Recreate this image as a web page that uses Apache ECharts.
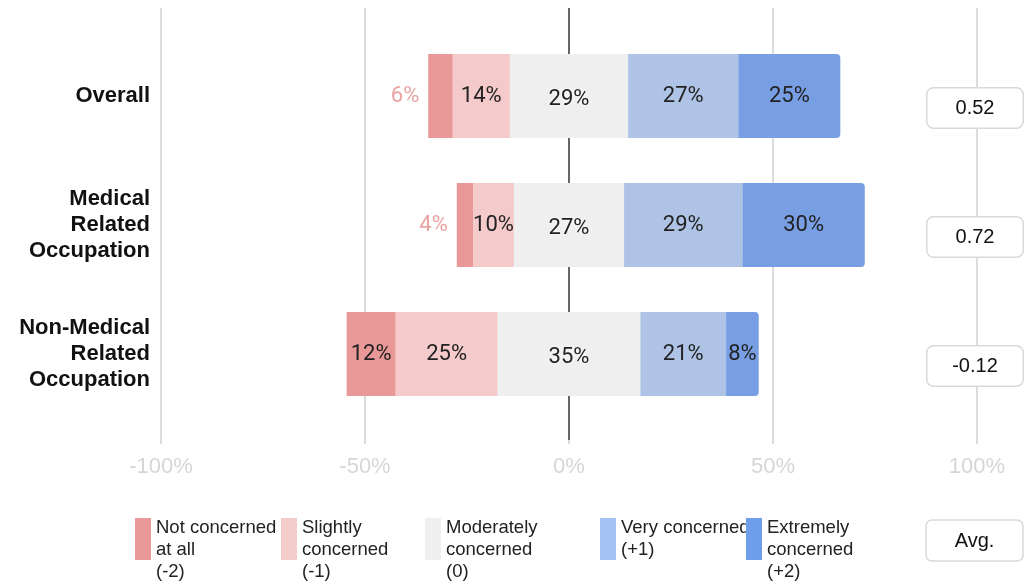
<!DOCTYPE html>
<html>
<head>
<meta charset="utf-8">
<script src="https://cdn.jsdelivr.net/npm/echarts@6/dist/echarts.min.js"></script>
<style>
  html, body { margin: 0; padding: 0; background: #fff; }
  #chart { width: 1027px; height: 584px; }
</style>
</head>
<body>
<div id="chart"></div>
<script>
var categories = ['Overall', 'Medical\nRelated\nOccupation', 'Non-Medical\nRelated\nOccupation'];
var notConcerned = [6, 4, 12];
var slightlyConcerned = [14, 10, 25];
var moderatelyConcerned = [29, 27, 35];
var veryConcerned = [27, 29, 21];
var extremelyConcerned = [25, 30, 8];
var avgScores = ['0.52', '0.72', '-0.12'];
var xTicks = [-100, -50, 0, 50, 100];

var seriesNames = ['Not concerned at all', 'Slightly concerned', 'Moderately concerned', 'Very concerned', 'Extremely concerned'];
var legendLabels = ['Not concerned\nat all\n(-2)', 'Slightly\nconcerned\n(-1)', 'Moderately\nconcerned\n(0)', 'Very concerned\n(+1)', 'Extremely\nconcerned\n(+2)'];
var colors = ['#E99898', '#F4CACA', '#EFEFEF', '#AEC3E5', '#789FE3'];
var legendColors = ['#EA9999', '#F4CCCC', '#EFEFEF', '#A4C2F4', '#6D9EEB'];
var legendLeft = [135, 281, 425, 600, 746];

var barLabel = {
  show: true,
  position: 'inside',
  fontFamily: 'Roboto',
  fontSize: 22,
  color: '#222',
  formatter: function (p) { return Math.abs(p.value) + '%'; }
};

function barSeries(idx, values, sign, extra) {
  var s = {
    name: seriesNames[idx],
    type: 'bar',
    stack: 'total',
    xAxisIndex: 0,
    yAxisIndex: 0,
    barWidth: 84,
    itemStyle: { color: colors[idx] },
    label: barLabel,
    data: values.map(function (v) { return sign * v; })
  };
  for (var k in extra) { s[k] = extra[k]; }
  return s;
}

var chart = echarts.init(document.getElementById('chart'), null, { renderer: 'canvas' });

// icon top sits at y=518; three-line texts get an empty first line so they start at the icon top
var legends = seriesNames.map(function (name, i) {
  var threeLine = legendLabels[i].split('\n').length > 2;
  var text = threeLine ? '\n' + legendLabels[i] : legendLabels[i];
  return {
    left: legendLeft[i],
    top: threeLine ? 495 : 517,
    padding: 0,
    orient: 'horizontal',
    itemWidth: 16,
    itemHeight: 42,
    itemGap: 0,
    icon: 'rect',
    data: [{ name: name, itemStyle: { color: legendColors[i] } }],
    formatter: function () { return text; },
    textStyle: {
      fontFamily: 'Liberation Sans, Arial, sans-serif',
      fontSize: 18.5,
      lineHeight: 22,
      color: '#222'
    }
  };
});

chart.setOption({
  animation: false,
  grid: [
    { left: 161, right: 50, top: 31.5, bottom: 165.5 },
    { left: 161, right: 50, top: 8, bottom: 144 }
  ],
  legend: legends,
  xAxis: [
    { gridIndex: 0, type: 'value', min: -100, max: 100, show: false },
    {
      gridIndex: 1,
      type: 'value',
      min: -100,
      max: 100,
      interval: 50,
      axisLine: { show: false },
      axisTick: { show: true, length: 4, lineStyle: { color: '#d0d0d0', width: 1.5 } },
      axisLabel: {
        margin: 16,
        fontFamily: 'Liberation Sans, Arial, sans-serif',
        fontSize: 22,
        color: '#d6d6d6',
        formatter: '{value}%'
      },
      splitLine: {
        show: true,
        lineStyle: {
          width: 1.5,
          color: xTicks.map(function (t) { return t === 0 ? '#333' : '#d0d0d0'; })
        }
      }
    }
  ],
  yAxis: [
    {
      gridIndex: 0,
      type: 'category',
      data: categories,
      inverse: true,
      axisLine: { show: false },
      axisTick: { show: false },
      axisLabel: {
        margin: 11,
        fontFamily: 'Liberation Sans, Arial, sans-serif',
        fontWeight: 'bold',
        fontSize: 22,
        lineHeight: 26,
        color: '#111',
        align: 'right'
      }
    },
    { gridIndex: 1, type: 'value', show: false, min: 0, max: 1 }
  ],
  graphic: [
    {
      type: 'rect',
      x: 926,
      y: 520,
      shape: { width: 97, height: 41, r: 6 },
      style: { fill: '#fff', stroke: '#d9d9d9', lineWidth: 1.5 }
    },
    {
      type: 'text',
      x: 974.5,
      y: 541,
      style: {
        text: 'Avg.',
        align: 'center',
        verticalAlign: 'middle',
        fontFamily: 'Liberation Sans, Arial, sans-serif',
        fontSize: 20,
        fill: '#111'
      }
    }
  ],
  series: [
    barSeries(2, moderatelyConcerned.map(function (v) { return v / 2; }), -1, { label: { show: false } }),
    barSeries(1, slightlyConcerned, -1, {}),
    barSeries(0, notConcerned, -1, {
      data: notConcerned.map(function (v) {
        if (v < 8) {
          return {
            value: -v,
            label: { position: 'left', distance: 9, color: '#EBA3A3' }
          };
        }
        return -v;
      })
    }),
    barSeries(2, moderatelyConcerned.map(function (v) { return v / 2; }), 1, { label: { show: false } }),
    barSeries(3, veryConcerned, 1, {}),
    barSeries(4, extremelyConcerned, 1, { itemStyle: { color: colors[4], borderRadius: [0, 4, 4, 0] } }),
    {
      name: 'neutral-label',
      type: 'scatter',
      xAxisIndex: 0,
      yAxisIndex: 0,
      symbolSize: 1,
      itemStyle: { color: '#EFEFEF', opacity: 1 },
      silent: true,
      z: 5,
      label: {
        show: true,
        position: 'inside',
        offset: [0, 3],
        fontFamily: 'Roboto',
        fontSize: 22,
        color: '#222',
        textBorderColor: 'transparent',
        textShadowColor: '#fff',
        textShadowBlur: 4,
        formatter: function (p) { return moderatelyConcerned[p.dataIndex] + '%'; }
      },
      data: categories.map(function (c) { return [0, c]; })
    },
    {
      name: 'avg',
      type: 'scatter',
      xAxisIndex: 0,
      yAxisIndex: 0,
      symbolSize: 1,
      itemStyle: { color: '#fff', opacity: 1 },
      silent: true,
      z: 5,
      label: {
        show: true,
        position: 'inside',
        offset: [-2, 12],
        width: 95,
        height: 39,
        lineHeight: 39,
        align: 'center',
        backgroundColor: '#fff',
        borderColor: '#d9d9d9',
        borderWidth: 1.5,
        borderRadius: 6,
        textBorderColor: 'transparent',
        fontFamily: 'Liberation Sans, Arial, sans-serif',
        fontSize: 20,
        color: '#111',
        formatter: function (p) { return avgScores[p.dataIndex]; }
      },
      data: categories.map(function (c) { return [100, c]; })
    }
  ]
});
</script>
</body>
</html>
